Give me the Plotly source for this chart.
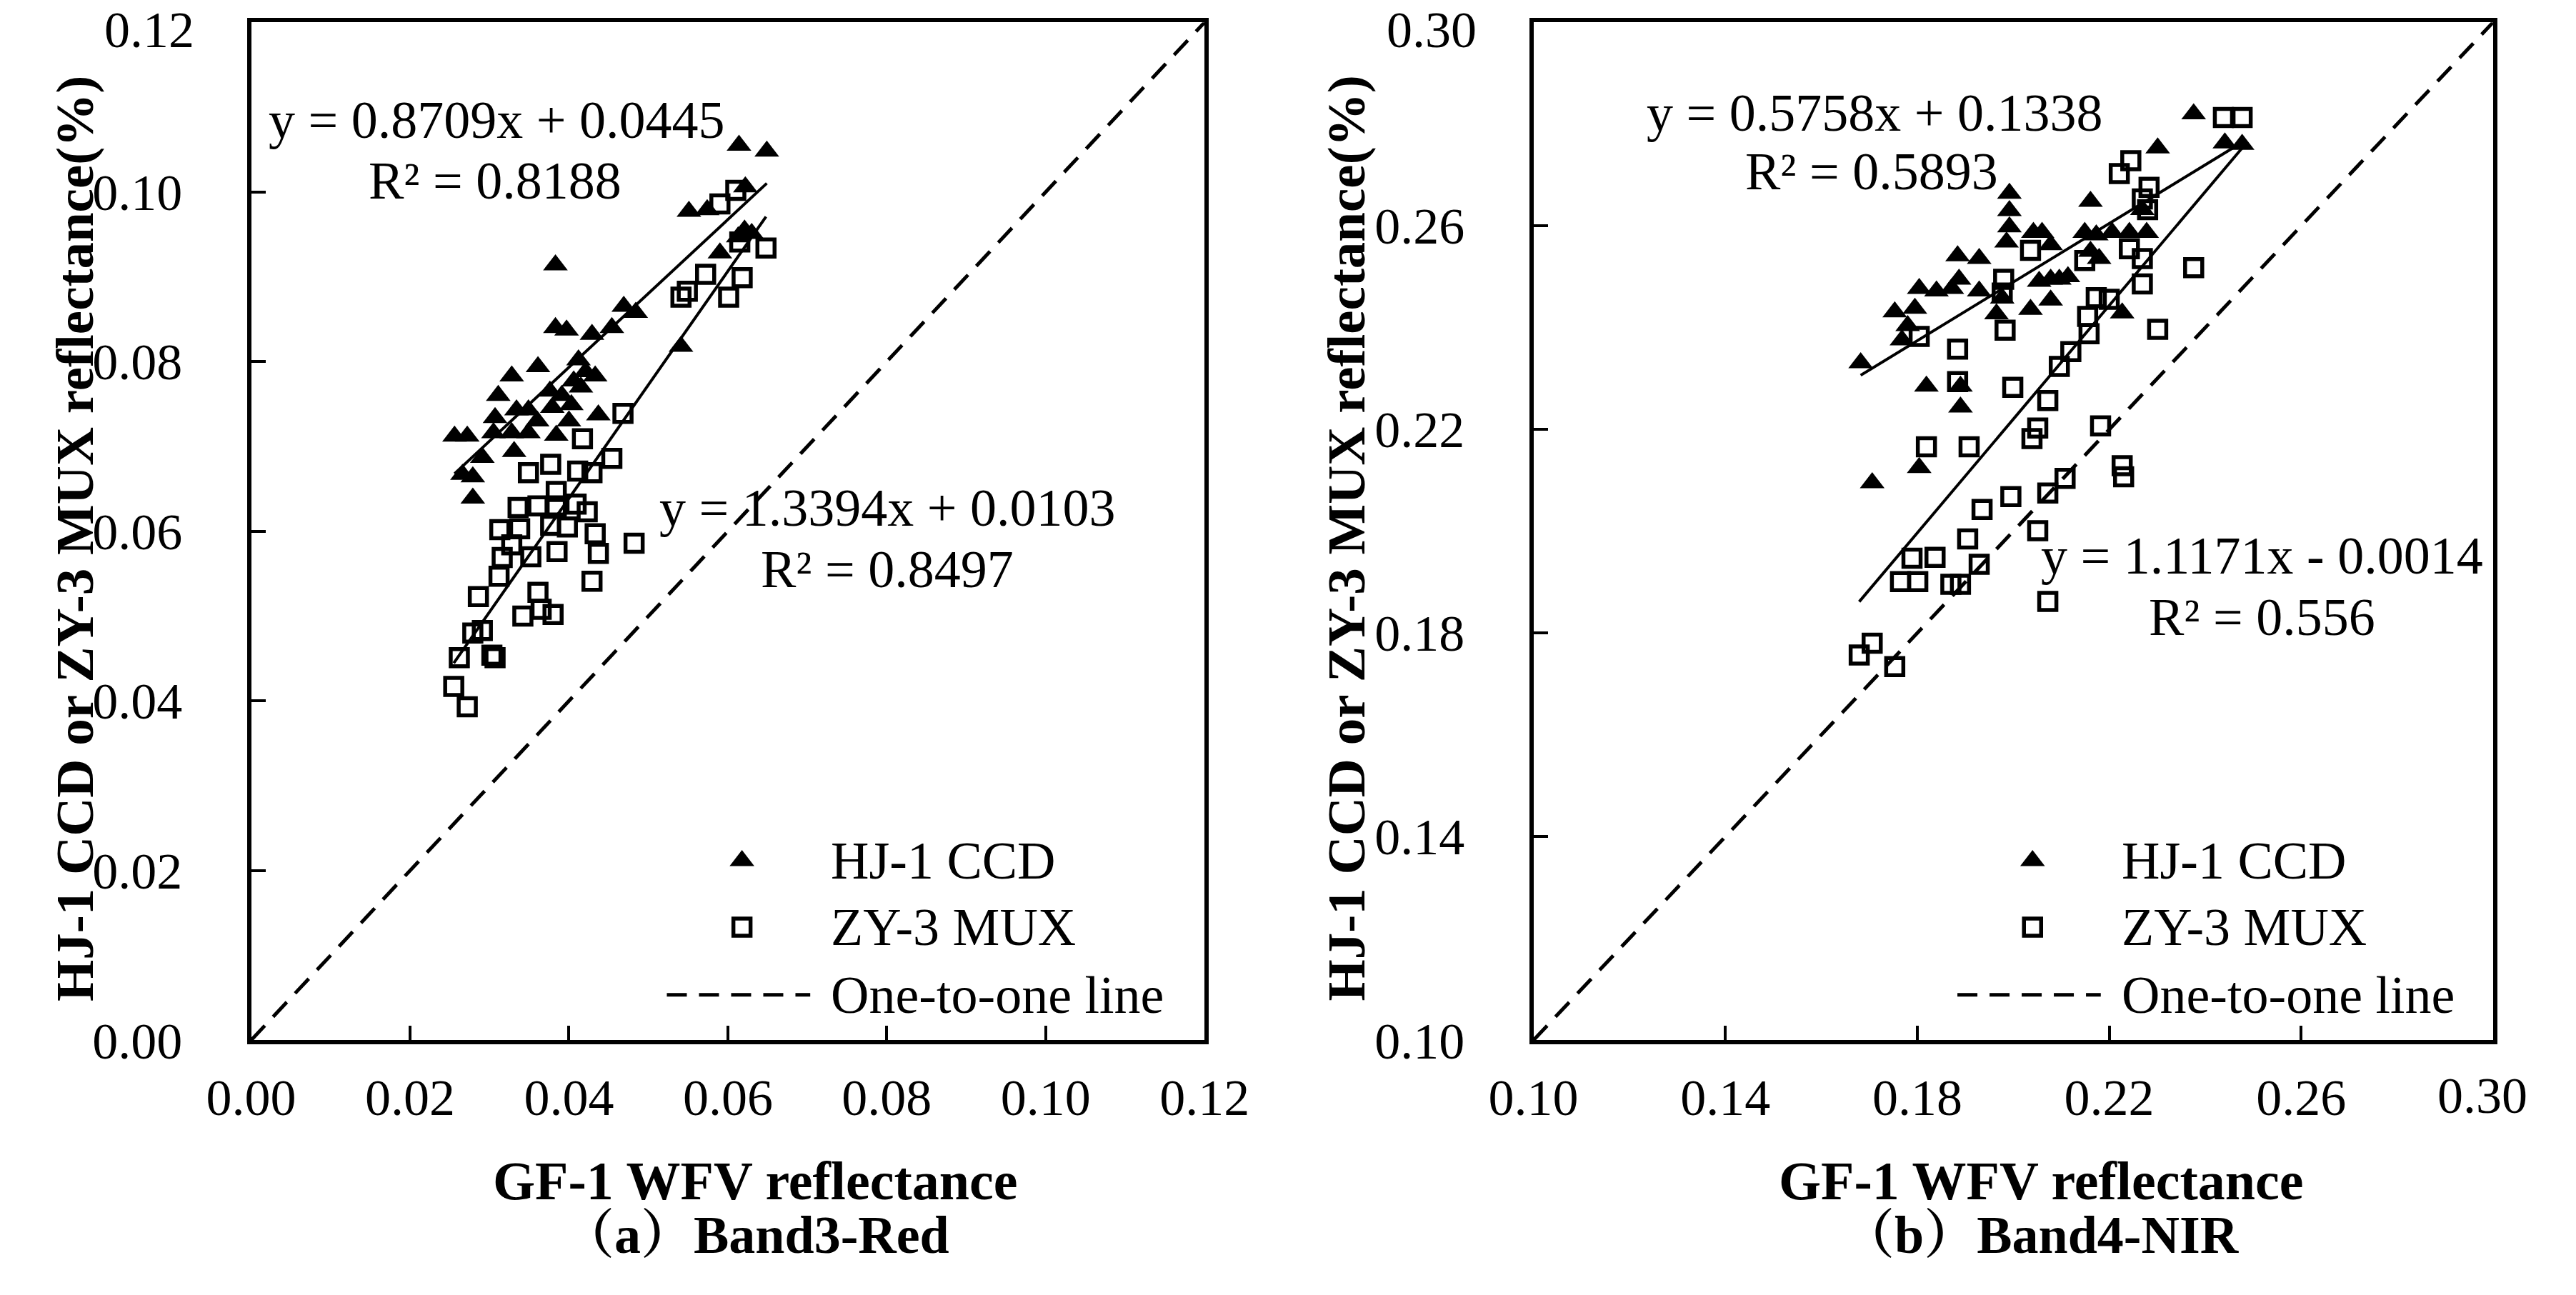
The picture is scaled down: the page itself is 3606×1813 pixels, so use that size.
import plotly.graph_objects as go

W, H = 3606, 1813

# ---------------- data : panel (a) Band3-Red ----------------
a_hj_x = [0.0614, 0.0649, 0.0622, 0.0551, 0.0574, 0.0621, 0.0613, 0.0630, 0.0590, 0.0383,
          0.0469, 0.0484, 0.0383, 0.0397, 0.0454, 0.0429, 0.0541, 0.0361, 0.0328, 0.0412,
          0.0421, 0.0433, 0.0406, 0.0376, 0.0391, 0.0311, 0.0403, 0.0437, 0.0334, 0.0349,
          0.0307, 0.0379, 0.0256, 0.0272, 0.0305, 0.0328, 0.0349, 0.0384, 0.0331, 0.0291,
          0.0266, 0.0279, 0.0279, 0.0400, 0.0360, 0.0415]
a_hj_y = [0.1055, 0.1048, 0.1006, 0.0977, 0.0979, 0.0955, 0.0947, 0.0951, 0.0928, 0.0914,
          0.0865, 0.0858, 0.0840, 0.0837, 0.0840, 0.0832, 0.0818, 0.0794, 0.0783, 0.0802,
          0.0788, 0.0783, 0.0777, 0.0765, 0.0760, 0.0760, 0.0749, 0.0737, 0.0743, 0.0743,
          0.0734, 0.0746, 0.0712, 0.0712, 0.0716, 0.0716, 0.0716, 0.0713, 0.0694, 0.0687,
          0.0667, 0.0664, 0.0639, 0.0730, 0.0730, 0.0770]
a_zy_x = [0.0610, 0.0590, 0.0615, 0.0648, 0.0572, 0.0618, 0.0549, 0.0541, 0.0601, 0.0468,
          0.0417, 0.0454, 0.0377, 0.0349, 0.0411, 0.0429, 0.0384, 0.0336, 0.0361, 0.0384,
          0.0409, 0.0423, 0.0313, 0.0338, 0.0377, 0.0398, 0.0433, 0.0385, 0.0437, 0.0482,
          0.0352, 0.0316, 0.0328, 0.0312, 0.0429, 0.0286, 0.0361, 0.0342, 0.0380, 0.0365,
          0.0291, 0.0279, 0.0262, 0.0307, 0.0303, 0.0255, 0.0272]
a_zy_y = [0.1002, 0.0986, 0.0941, 0.0934, 0.0903, 0.0899, 0.0883, 0.0876, 0.0876, 0.0739,
          0.0709, 0.0686, 0.0679, 0.0669, 0.0671, 0.0669, 0.0647, 0.0628, 0.0630, 0.0630,
          0.0632, 0.0623, 0.0602, 0.0603, 0.0607, 0.0605, 0.0597, 0.0576, 0.0574, 0.0586,
          0.0570, 0.0569, 0.0584, 0.0547, 0.0541, 0.0523, 0.0528, 0.0500, 0.0502, 0.0508,
          0.0483, 0.0480, 0.0451, 0.0451, 0.0454, 0.0417, 0.0393]

# ---------------- data : panel (b) Band4-NIR ----------------
b_hj_x = [0.2376, 0.2301, 0.2441, 0.2477, 0.1992, 0.1992, 0.2161, 0.1992, 0.2042, 0.2060,
          0.1986, 0.2149, 0.2173, 0.2206, 0.2242, 0.2278, 0.2269, 0.2078, 0.2161, 0.2179,
          0.1884, 0.1929, 0.1887, 0.1804, 0.1840, 0.1872, 0.1929, 0.1977, 0.2054, 0.2078,
          0.2096, 0.2114, 0.2078, 0.1753, 0.1795, 0.2036, 0.1965, 0.2227, 0.1780, 0.1768,
          0.1682, 0.1819, 0.1890, 0.1890, 0.1804, 0.1706]
b_hj_y = [0.2820, 0.2753, 0.2763, 0.2760, 0.2664, 0.2630, 0.2648, 0.2598, 0.2587, 0.2587,
          0.2568, 0.2587, 0.2582, 0.2587, 0.2587, 0.2587, 0.2632, 0.2563, 0.2550, 0.2536,
          0.2541, 0.2536, 0.2495, 0.2477, 0.2472, 0.2477, 0.2472, 0.2458, 0.2491, 0.2495,
          0.2495, 0.2500, 0.2454, 0.2431, 0.2438, 0.2436, 0.2427, 0.2429, 0.2404, 0.2376,
          0.2331, 0.2285, 0.2285, 0.2244, 0.2125, 0.2095]
b_zy_x = [0.2438, 0.2477, 0.2245, 0.2221, 0.2283, 0.2269, 0.2280, 0.2036, 0.2242, 0.2269,
          0.2149, 0.2376, 0.1980, 0.2269, 0.1977, 0.2173, 0.2200, 0.2155, 0.2301, 0.1804,
          0.1983, 0.2158, 0.1884, 0.2120, 0.2096, 0.1999, 0.1884, 0.2072, 0.2182, 0.2051,
          0.2039, 0.1819, 0.1908, 0.2227, 0.2230, 0.2108, 0.1995, 0.2072, 0.1935, 0.1905,
          0.2051, 0.1789, 0.1837, 0.1929, 0.1765, 0.1801, 0.1870, 0.1890, 0.2072, 0.1706,
          0.1679, 0.1753]
b_zy_y = [0.2813, 0.2813, 0.2728, 0.2703, 0.2676, 0.2653, 0.2632, 0.2552, 0.2555, 0.2536,
          0.2532, 0.2518, 0.2495, 0.2486, 0.2468, 0.2459, 0.2456, 0.2422, 0.2397, 0.2383,
          0.2395, 0.2388, 0.2358, 0.2353, 0.2324, 0.2283, 0.2294, 0.2257, 0.2207, 0.2203,
          0.2182, 0.2166, 0.2166, 0.2129, 0.2107, 0.2104, 0.2068, 0.2075, 0.2043, 0.1985,
          0.2001, 0.1947, 0.1949, 0.1935, 0.1901, 0.1901, 0.1896, 0.1896, 0.1862, 0.1780,
          0.1757, 0.1734]

# regression coefficients shown on the chart [HJ-1 CCD, ZY-3 MUX]
a_slopes = [0.8709, 1.3394]
a_intercepts = [0.0445, 0.0103]
b_slopes = [0.5758, 1.1171]
b_intercepts = [0.1338, -0.0014]

a_eq_text = ["y = 0.8709x + 0.0445", "R² = 0.8188", "y = 1.3394x + 0.0103", "R² = 0.8497"]
b_eq_text = ["y = 0.5758x + 0.1338", "R² = 0.5893", "y = 1.1171x - 0.0014", "R² = 0.556"]

series_names = ["HJ-1 CCD", "ZY-3 MUX", "One-to-one line"]
x_title = "GF-1 WFV reflectance"
y_title = "HJ-1 CCD or ZY-3 MUX reflectance(%)"
panel_titles = ["（a）Band3-Red", "（b）Band4-NIR"]

a_range = [0.0, 0.12]
a_ticks = [0.00, 0.02, 0.04, 0.06, 0.08, 0.10, 0.12]
a_ticktext = ["0.00", "0.02", "0.04", "0.06", "0.08", "0.10", "0.12"]
b_range = [0.10, 0.30]
b_ticks = [0.10, 0.14, 0.18, 0.22, 0.26, 0.30]
b_ticktext = ["0.10", "0.14", "0.18", "0.22", "0.26", "0.30"]

# ---------------- styling / layout helpers ----------------
SERIF = "Liberation Serif, Times New Roman, Noto Serif CJK SC, Noto Sans CJK SC, serif"
TICK_FONT = dict(family=SERIF, size=72, color="black")
TEXT_FONT = dict(family=SERIF, size=74, color="black")
BOLD_FONT = dict(family=SERIF, size=76, color="black", weight="bold")


def fx(px):
    return px / W


def fy(py):
    return 1 - py / H


fig = go.Figure()

panels = [
    dict(xa="x", ya="y", lx="x3", ly="y3", hx=a_hj_x, hy=a_hj_y, zx=a_zy_x, zy=a_zy_y,
         slopes=a_slopes, inter=a_intercepts, rng=a_range, tt=a_ticktext, left=299),
    dict(xa="x2", ya="y2", lx="x4", ly="y4", hx=b_hj_x, hy=b_hj_y, zx=b_zy_x, zy=b_zy_y,
         slopes=b_slopes, inter=b_intercepts, rng=b_range, tt=b_ticktext, left=2159),
]

TRI = dict(symbol="triangle-up", size=30, color="black", line=dict(width=0))
SQR = dict(symbol="square-open", size=24, color="black", line=dict(width=5.5, color="black"))
DASH = dict(color="black", width=5, dash="28px,17px")

for p in panels:
    fig.add_trace(go.Scatter(x=p["rng"], y=p["rng"], mode="lines", line=DASH,
                             xaxis=p["xa"], yaxis=p["ya"], showlegend=False, hoverinfo="skip"))
    fig.add_trace(go.Scatter(x=p["hx"], y=p["hy"], mode="markers", marker=TRI,
                             xaxis=p["xa"], yaxis=p["ya"], name=series_names[0], showlegend=False))
    fig.add_trace(go.Scatter(x=p["zx"], y=p["zy"], mode="markers", marker=SQR,
                             xaxis=p["xa"], yaxis=p["ya"], name=series_names[1], showlegend=False))
    for xs, k, b in ((p["hx"], p["slopes"][0], p["inter"][0]),
                     (p["zx"], p["slopes"][1], p["inter"][1])):
        x0, x1 = min(xs), max(xs)
        fig.add_trace(go.Scatter(x=[x0, x1], y=[k * x0 + b, k * x1 + b], mode="lines",
                                 line=dict(color="black", width=4),
                                 xaxis=p["xa"], yaxis=p["ya"], showlegend=False, hoverinfo="skip"))

# custom legend keys drawn on overlay axes (0..1 of each plot area)
legend_pos = [
    dict(mx=0.5148, dx=[0.436, 0.5864], tx=0.6067),
    dict(mx=0.5201, dx=[0.4418, 0.5912], tx=0.6114),
]
legend_rows = [0.1763, 0.1111, 0.0446]

annotations = []
for p, lp in zip(panels, legend_pos):
    fig.add_trace(go.Scatter(x=[lp["mx"]], y=[legend_rows[0]], mode="markers", marker=TRI,
                             xaxis=p["lx"], yaxis=p["ly"], showlegend=False, hoverinfo="skip"))
    fig.add_trace(go.Scatter(x=[lp["mx"]], y=[legend_rows[1]], mode="markers", marker=SQR,
                             xaxis=p["lx"], yaxis=p["ly"], showlegend=False, hoverinfo="skip"))
    fig.add_trace(go.Scatter(x=lp["dx"], y=[legend_rows[2]] * 2, mode="lines", line=DASH,
                             xaxis=p["lx"], yaxis=p["ly"], showlegend=False, hoverinfo="skip"))
    for name, ry in zip(series_names, legend_rows):
        annotations.append(dict(text=name, xref=p["xa"] + " domain", yref=p["ya"] + " domain",
                                x=lp["tx"], y=ry, xanchor="left", yanchor="middle",
                                showarrow=False, font=TEXT_FONT))
    # topmost y tick label, kept inside the figure box
    annotations.append(dict(text=p["tt"][-1], xref="paper", yref="paper",
                            x=fx(p["left"] - 80), y=1, xanchor="right", yanchor="top",
                            showarrow=False, font=TICK_FONT))

# last x tick label of panel (b), kept inside the figure box
annotations.append(dict(text=b_ticktext[-1], xref="paper", yref="paper", x=fx(3603), y=fy(1569),
                        xanchor="right", yanchor="middle", showarrow=False, font=TICK_FONT))

# regression equations (pixel anchors of the text centres)
eq_pos_a = [(655, 172), (653, 259), (1222, 727), (1222, 815)]
eq_pos_b = [(2654, 162), (2650, 246), (3216, 796), (3216, 884)]
for texts, pos in ((a_eq_text, eq_pos_a), (b_eq_text, eq_pos_b)):
    for t, (px, py) in zip(texts, pos):
        annotations.append(dict(text=t, xref="paper", yref="paper", x=fx(px), y=fy(py),
                                xanchor="center", yanchor="middle", showarrow=False,
                                font=TEXT_FONT))

# axis titles and panel captions
for cx, cap in zip((1030, 2895), panel_titles):
    annotations.append(dict(text=x_title, xref="paper", yref="paper", x=fx(cx), y=fy(1691),
                            xanchor="center", yanchor="middle", showarrow=False, font=BOLD_FONT))
    annotations.append(dict(text=cap, xref="paper", yref="paper", x=fx(cx), y=0,
                            xanchor="center", yanchor="bottom", showarrow=False,
                            font=dict(family=SERIF, size=74, color="black", weight="bold")))
for cx in (43, 1888):
    annotations.append(dict(text=y_title, xref="paper", yref="paper", x=fx(cx), y=fy(771),
                            xanchor="center", yanchor="middle", textangle=-90, showarrow=False,
                            font=dict(family=SERIF, size=75, color="black", weight="bold")))

ydom = [fy(1490), fy(32)]
common = dict(showline=True, linecolor="black", linewidth=6, mirror=True, ticks="inside",
              ticklen=20, tickwidth=4, tickcolor="black", showgrid=False, zeroline=False,
              tickfont=TICK_FONT, tickmode="array")

fig.update_layout(
    width=W, height=H,
    margin=dict(l=0, r=0, t=0, b=0),
    paper_bgcolor="white", plot_bgcolor="white",
    showlegend=False,
    xaxis=dict(domain=[fx(299), fx(1682)], range=a_range, tickvals=a_ticks, ticktext=a_ticktext,
               anchor="y", ticklabelstandoff=12, **common),
    yaxis=dict(domain=ydom, range=a_range, tickvals=a_ticks[:-1], ticktext=a_ticktext[:-1],
               anchor="x", ticklabelstandoff=76, **common),
    xaxis2=dict(domain=[fx(2159), fx(3551)], range=b_range, tickvals=b_ticks[:-1],
                ticktext=b_ticktext[:-1], anchor="y2", ticklabelstandoff=12, **common),
    yaxis2=dict(domain=ydom, range=b_range, tickvals=b_ticks[:-1], ticktext=b_ticktext[:-1],
                anchor="x2", ticklabelstandoff=76, **common),
    xaxis3=dict(overlaying="x", range=[0, 1], visible=False, anchor="y3"),
    yaxis3=dict(overlaying="y", range=[0, 1], visible=False, anchor="x3"),
    xaxis4=dict(overlaying="x2", range=[0, 1], visible=False, anchor="y4"),
    yaxis4=dict(overlaying="y2", range=[0, 1], visible=False, anchor="x4"),
    annotations=annotations,
)

fig.write_html("out.html", config={"displayModeBar": False},
               post_script="document.body.style.margin='0';document.body.style.overflow='hidden';")
